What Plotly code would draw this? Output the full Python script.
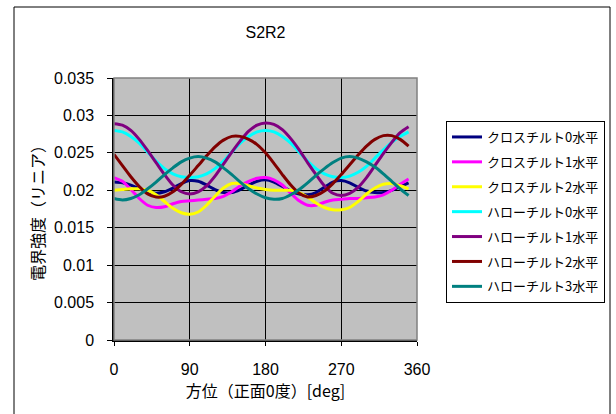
import plotly.graph_objects as go

# Azimuth (deg) of each sample
azimuth = list(range(0, 360, 10))

# Field strength (linear) per tilt pattern
cross_tilt0 = [0.0211, 0.0210, 0.0207, 0.0202, 0.0198, 0.0196, 0.0198, 0.0203, 0.0209, 0.0213,
               0.0212, 0.0207, 0.0201, 0.0197, 0.0197, 0.0201, 0.0207, 0.0212, 0.0214, 0.0211,
               0.0205, 0.0199, 0.0195, 0.0194, 0.0197, 0.0204, 0.0211, 0.0213, 0.0210, 0.0204,
               0.0199, 0.0197, 0.0197, 0.0200, 0.0205, 0.0210]
cross_tilt1 = [0.0217, 0.0212, 0.0201, 0.0189, 0.0180, 0.0177, 0.0178, 0.0182, 0.0185, 0.0186,
               0.0187, 0.0188, 0.0189, 0.0192, 0.0198, 0.0206, 0.0212, 0.0216, 0.0217, 0.0214,
               0.0207, 0.0196, 0.0186, 0.0180, 0.0180, 0.0184, 0.0187, 0.0188, 0.0189, 0.0189,
               0.0190, 0.0191, 0.0194, 0.0200, 0.0208, 0.0215]
cross_tilt2 = [0.0200, 0.0201, 0.0202, 0.0202, 0.0200, 0.0194, 0.0185, 0.0176, 0.0170, 0.0168,
               0.0171, 0.0180, 0.0192, 0.0203, 0.0209, 0.0209, 0.0206, 0.0203, 0.0201, 0.0200,
               0.0200, 0.0200, 0.0197, 0.0191, 0.0183, 0.0177, 0.0174, 0.0174, 0.0177, 0.0185,
               0.0195, 0.0203, 0.0208, 0.0209, 0.0206, 0.0202]
halo_tilt0 = [0.0280, 0.0278, 0.0272, 0.0263, 0.0251, 0.0239, 0.0229, 0.0222, 0.0218, 0.0217,
              0.0218, 0.0222, 0.0229, 0.0239, 0.0251, 0.0263, 0.0272, 0.0278, 0.0280, 0.0278,
              0.0272, 0.0263, 0.0251, 0.0239, 0.0229, 0.0222, 0.0218, 0.0217, 0.0219, 0.0224,
              0.0232, 0.0243, 0.0254, 0.0264, 0.0272, 0.0278]
halo_tilt1 = [0.0289, 0.0287, 0.0280, 0.0268, 0.0253, 0.0237, 0.0221, 0.0207, 0.0198, 0.0195,
              0.0198, 0.0206, 0.0219, 0.0235, 0.0251, 0.0266, 0.0279, 0.0287, 0.0290, 0.0288,
              0.0281, 0.0269, 0.0254, 0.0237, 0.0221, 0.0206, 0.0196, 0.0193, 0.0196, 0.0204,
              0.0217, 0.0233, 0.0249, 0.0264, 0.0277, 0.0285]
halo_tilt2 = [0.0248, 0.0233, 0.0218, 0.0205, 0.0195, 0.0191, 0.0192, 0.0198, 0.0208, 0.0220,
              0.0233, 0.0246, 0.0258, 0.0267, 0.0272, 0.0272, 0.0268, 0.0261, 0.0250, 0.0236,
              0.0221, 0.0207, 0.0196, 0.0191, 0.0193, 0.0199, 0.0209, 0.0221, 0.0234, 0.0247,
              0.0259, 0.0268, 0.0273, 0.0273, 0.0268, 0.0259]
halo_tilt3 = [0.0189, 0.0187, 0.0189, 0.0194, 0.0202, 0.0211, 0.0221, 0.0230, 0.0238, 0.0243,
              0.0245, 0.0243, 0.0238, 0.0230, 0.0221, 0.0211, 0.0202, 0.0195, 0.0190, 0.0188,
              0.0189, 0.0194, 0.0201, 0.0210, 0.0220, 0.0229, 0.0237, 0.0243, 0.0245, 0.0243,
              0.0238, 0.0231, 0.0222, 0.0212, 0.0202, 0.0193]

series_names = ["クロスチルト0水平", "クロスチルト1水平", "クロスチルト2水平",
                "ハローチルト0水平", "ハローチルト1水平", "ハローチルト2水平", "ハローチルト3水平"]
series_values = [cross_tilt0, cross_tilt1, cross_tilt2,
                 halo_tilt0, halo_tilt1, halo_tilt2, halo_tilt3]
series_colors = ["#000080", "#FF00FF", "#FFFF00", "#00FFFF", "#800080", "#800000", "#008080"]

x_ticks = [0, 90, 180, 270, 360]
y_ticks = [0, 0.005, 0.01, 0.015, 0.02, 0.025, 0.03, 0.035]
y_tick_labels = ["0", "0.005", "0.01", "0.015", "0.02", "0.025", "0.03", "0.035"]

W, H = 616, 414
ML, MR, MT, MB = 114, 199, 78, 74
plot_w = W - ML - MR
plot_h = H - MT - MB

latin = "Liberation Sans, Arial, sans-serif"
cjk = "Noto Sans CJK JP, sans-serif"

fig = go.Figure()
for i, (name, vals, col) in enumerate(zip(series_names, series_values, series_colors)):
    fig.add_trace(go.Scatter(
        x=azimuth, y=vals, name=name, mode="lines",
        line=dict(color=col, width=3, shape="spline", smoothing=0.8),
        legendgroup=f"g{i}",
    ))

# outer chart-area frame (in plot-paper units)
def px_to_paper_x(px):
    return (px - ML) / plot_w

def px_to_paper_y(py):
    return (H - MB - py) / plot_h

fig.add_shape(type="rect", xref="paper", yref="paper",
              x0=px_to_paper_x(14), x1=px_to_paper_x(610),
              y0=px_to_paper_y(430), y1=px_to_paper_y(7),
              line=dict(color="black", width=1), fillcolor="rgba(0,0,0,0)", layer="below")
# plot-area border
fig.add_shape(type="rect", xref="paper", yref="paper", x0=0, x1=1, y0=0, y1=1,
              line=dict(color="#808080", width=1.5), fillcolor="rgba(0,0,0,0)")

fig.update_layout(
    width=W, height=H,
    margin=dict(l=ML, r=MR, t=MT, b=MB, pad=0),
    paper_bgcolor="white",
    plot_bgcolor="#C0C0C0",
    title=dict(text="S2R2", x=(ML + plot_w / 2) / W, xanchor="center",
               y=1 - 32 / H, yanchor="middle",
               font=dict(family=latin, size=16, color="black")),
    showlegend=True,
    legend=dict(
        xref="container", yref="container",
        x=446 / W, y=1 - 121 / H, xanchor="left", yanchor="top",
        bgcolor="white", bordercolor="black", borderwidth=1,
        font=dict(family=cjk, size=13, color="black"),
        tracegroupgap=5, itemwidth=30,
    ),
    xaxis=dict(
        range=[0, 360], tickvals=x_ticks, ticktext=[str(t) for t in x_ticks],
        showgrid=True, gridcolor="black", gridwidth=1,
        showline=True, linecolor="black", linewidth=1.5,
        ticks="outside", ticklen=4, tickcolor="black",
        ticklabelstandoff=10,
        tickfont=dict(family=latin, size=16, color="black"),
        zeroline=False,
        title=dict(text="方位（正面0度）[deg]", standoff=7,
                   font=dict(family=cjk, size=16, color="black")),
    ),
    yaxis=dict(
        range=[0, 0.035], tickvals=y_ticks, ticktext=y_tick_labels,
        showgrid=True, gridcolor="black", gridwidth=1,
        showline=True, linecolor="black", linewidth=1.5,
        ticks="outside", ticklen=5, tickcolor="black",
        ticklabelstandoff=10,
        tickfont=dict(family=latin, size=16, color="black"),
        zeroline=False,
        title=dict(text="電界強度（リニア）", standoff=5,
                   font=dict(family=cjk, size=16, color="black")),
    ),
)

fig.write_html("out.html")
